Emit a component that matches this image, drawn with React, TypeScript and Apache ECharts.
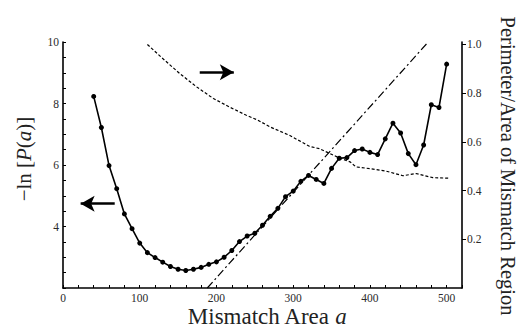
import React, { useEffect, useRef } from "react";
import * as echarts from "echarts";

// Main curve: -ln[P(a)] vs mismatch area a (left axis)
const areaValues = [
  40, 50, 60, 70, 80, 90, 100, 110, 120, 130, 140, 150, 160, 170, 180, 190, 200,
  210, 220, 230, 240, 250, 260, 270, 280, 290, 300, 310, 320, 330, 340, 350, 360,
  370, 380, 390, 400, 410, 420, 430, 440, 450, 460, 470, 480, 490, 500,
];
const negLnP = [
  8.23, 7.22, 5.98, 5.23, 4.41, 3.93, 3.46, 3.15, 2.99, 2.84, 2.7, 2.61, 2.57,
  2.61, 2.67, 2.77, 2.85, 3.0, 3.22, 3.51, 3.69, 3.78, 4.04, 4.33, 4.59, 4.97,
  5.15, 5.47, 5.66, 5.53, 5.4, 5.89, 6.22, 6.24, 6.47, 6.52, 6.41, 6.34, 6.85,
  7.36, 7.04, 6.37, 6.01, 6.65, 7.96, 7.87, 9.28,
];

// Dashed curve: perimeter / area of mismatch region (right axis)
const ratioArea = [
  110, 130, 152, 174, 196, 217, 239, 254, 270, 295, 321, 334, 348, 360, 374, 382,
  400, 421, 443, 460, 482, 502,
];
const ratioValues = [
  1.0, 0.942, 0.881, 0.826, 0.778, 0.743, 0.709, 0.689, 0.661, 0.627, 0.582,
  0.572, 0.552, 0.534, 0.518, 0.497, 0.49, 0.48, 0.461, 0.47, 0.453, 0.451,
];

// Dash-dot straight reference line (left axis)
const fitArea = [188, 476];
const fitValues = [2, 10];

// Arrows (annotation, left-axis data coordinates): [fromX, toX, y]
const leftArrow = [67.4, 23, 4.74];
const rightArrow = [178.2, 222.6, 9.02];

const xTickLabels = [0, 100, 200, 300, 400, 500];
const leftTickLabels = [4, 6, 8, 10];
const rightTickLabels = [0.2, 0.4, 0.6, 0.8, 1.0];

const SERIF = "Liberation Serif";

export default function App() {
  const ref = useRef<HTMLDivElement>(null);

  useEffect(() => {
    if (!ref.current) return;
    const chart = echarts.init(ref.current, null, { renderer: "svg" });

    const mainData = areaValues.map((a, i) => [a, negLnP[i]]);
    const ratioData = ratioArea.map((a, i) => [a, ratioValues[i]]);
    const fitData = fitArea.map((a, i) => [a, fitValues[i]]);

    const labelStyle = {
      color: "#2a2a2a",
      fontFamily: SERIF,
      fontSize: 11.5,
    };
    const axisLineStyle = { color: "#000", width: 1.6 };

    chart.setOption({
      animation: false,
      backgroundColor: "#fff",
      textStyle: { fontFamily: SERIF },
      grid: { left: 63, right: 61, top: 42, bottom: 41, containLabel: false },
      xAxis: {
        type: "value",
        min: 0,
        max: 520,
        interval: 20,
        axisLine: { show: true, onZero: false, lineStyle: axisLineStyle },
        axisTick: { show: true, inside: true, length: 3, lineStyle: { color: "#000", width: 1 } },
        axisLabel: {
          ...labelStyle,
          margin: 4,
          formatter: (v: number) => (xTickLabels.includes(v) ? String(v) : ""),
        },
        splitLine: { show: false },
      },
      yAxis: [
        {
          type: "value",
          min: 2,
          max: 10,
          interval: 0.5,
          position: "left",
          axisLine: { show: true, onZero: false, lineStyle: axisLineStyle },
          axisTick: { show: true, inside: true, length: 3, lineStyle: { color: "#000", width: 1 } },
          axisLabel: {
            ...labelStyle,
            margin: 4,
            formatter: (v: number) => (leftTickLabels.includes(v) ? String(v) : ""),
          },
          splitLine: { show: false },
        },
        {
          type: "value",
          min: 0,
          max: 1.01,
          position: "right",
          axisLine: { show: true, onZero: false, lineStyle: axisLineStyle },
          axisTick: {
            show: true,
            inside: false,
            length: 4,
            customValues: rightTickLabels,
            lineStyle: { color: "#000", width: 1 },
          },
          axisLabel: {
            ...labelStyle,
            margin: 5,
            customValues: rightTickLabels,
            formatter: (v: number) => v.toFixed(1),
          },
          splitLine: { show: false },
        },
      ],
      series: [
        {
          type: "line",
          name: "fit",
          data: fitData,
          yAxisIndex: 0,
          symbol: "none",
          lineStyle: { color: "#000", width: 1.2, type: [8, 3, 2, 3] },
          silent: true,
          z: 1,
        },
        {
          type: "line",
          name: "ratio",
          data: ratioData,
          yAxisIndex: 1,
          symbol: "none",
          lineStyle: { color: "#000", width: 1.2, type: [3, 2] },
          silent: true,
          z: 1,
        },
        {
          type: "line",
          name: "negLnP",
          data: mainData,
          yAxisIndex: 0,
          symbol: "circle",
          symbolSize: 5,
          itemStyle: { color: "#000" },
          lineStyle: { color: "#000", width: 1.6 },
          silent: true,
          z: 3,
          markLine: {
            silent: true,
            symbol: ["none", "arrow"],
            symbolSize: [12, 14],
            label: { show: false },
            lineStyle: { color: "#000", width: 2.6, type: "solid" },
            emphasis: { disabled: true },
            data: [
              [
                { coord: [leftArrow[0], leftArrow[2]] },
                { coord: [leftArrow[1], leftArrow[2]] },
              ],
              [
                { coord: [rightArrow[0], rightArrow[2]] },
                { coord: [rightArrow[1], rightArrow[2]] },
              ],
            ],
          },
        },
      ],
      graphic: [
        {
          type: "text",
          x: 267,
          y: 316,
          style: {
            text: "{n|Mismatch Area }{i|a}",
            align: "center",
            verticalAlign: "middle",
            fill: "#222",
            fontFamily: SERIF,
            fontSize: 23,
            lineHeight: 18,
            rich: {
              n: { fontFamily: SERIF, fontSize: 23, lineHeight: 18, fill: "#222" },
              i: { fontFamily: SERIF, fontSize: 23, lineHeight: 18, fontStyle: "italic", fill: "#222" },
            },
          },
        },
        {
          type: "text",
          x: 24,
          y: 159,
          rotation: Math.PI / 2,
          style: {
            text: "{n|−ln [}{i|P}{n|(}{i|a}{n|)]}",
            align: "center",
            verticalAlign: "middle",
            fill: "#222",
            fontFamily: SERIF,
            fontSize: 21,
            rich: {
              n: { fontFamily: SERIF, fontSize: 21, fill: "#222" },
              i: { fontFamily: SERIF, fontSize: 21, fontStyle: "italic", fill: "#222" },
            },
          },
        },
        {
          type: "text",
          x: 508,
          y: 166,
          rotation: -Math.PI / 2,
          style: {
            text: "Perimeter/Area of Mismatch Region",
            align: "center",
            verticalAlign: "middle",
            fill: "#222",
            fontFamily: SERIF,
            fontSize: 20.5,
          },
        },
      ],
    });

    return () => chart.dispose();
  }, []);

  return (
    <div
      ref={ref}
      style={{ position: "fixed", left: 0, top: 0, width: 523, height: 329, background: "#fff" }}
    />
  );
}
